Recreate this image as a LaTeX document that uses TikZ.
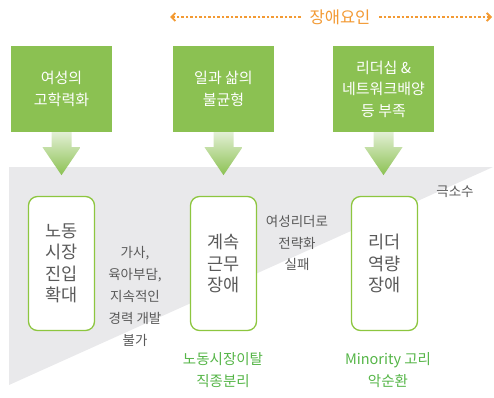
\documentclass[tikz,border=0pt]{standalone}
\usepackage{fontspec}
\setmainfont{Noto Sans CJK KR}
\usetikzlibrary{arrows.meta}
\definecolor{boxgreen}{HTML}{8BC152}
\definecolor{linegreen}{HTML}{8DC63F}
\definecolor{txtgreen}{HTML}{55B547}
\definecolor{lightgreen}{HTML}{E2EFD4}
\definecolor{graybg}{HTML}{E9E9EB}
\definecolor{graytxt}{HTML}{5A5A5A}
\definecolor{orangec}{HTML}{F39A33}
\tikzset{
  greenbox/.style={fill=boxgreen, minimum width=101pt, minimum height=86pt, inner sep=0pt, align=center, text=white, font=\fontsize{15}{21.5}\selectfont},
  roundbox/.style={draw=linegreen, line width=1.3pt, fill=white, rounded corners=9pt, minimum width=66pt, minimum height=134pt, inner sep=0pt, align=center, text=graytxt, font=\fontsize{17.5}{21.5}\selectfont},
  sidetxt/.style={align=center, text=graytxt, font=\fontsize{13.5}{21.8}\selectfont, inner sep=0pt},
  greentxt/.style={align=center, text=txtgreen, font=\fontsize{14.5}{21.5}\selectfont, inner sep=0pt},
  downarrow/.style={top color=lightgreen, bottom color=boxgreen, draw=none},
  orangeline/.style={orangec, line width=1.2pt, dash pattern=on 2.5pt off 2pt, arrows={-Straight Barb[length=4pt,width=8pt,line width=1.8pt]}}
}
\begin{document}
\begin{tikzpicture}[x=1pt,y=-1pt]
\useasboundingbox (0,0) rectangle (494,397);
% gray wedge
\fill[graybg] (9,167) -- (493,167) -- (9,385) -- cycle;
% top orange line
\coordinate (la) at (170,17);
\coordinate (lb) at (492,17);
\node[text=orangec, font=\fontsize{16.5}{18}\selectfont, fill=white, inner sep=0pt, minimum width=78pt] (hdr) at (340,17) {장애요인};
\draw[orangeline] (hdr.west) -- (la);
\draw[orangeline] (hdr.east) -- (lb);
% green boxes
\node[greenbox] (g1) at (61.5,89) {여성의\\고학력화};
\node[greenbox] (g2) at (223.5,89) {일과 삶의\\불균형};
\node[greenbox] (g3) at (383.5,89) {리더십 \&\\네트워크배양\\등 부족};
% arrows
\foreach \g in {g1,g2,g3}{
  \shade[downarrow] (\g.south) ++(-10,0) -- ++(0,15) -- ++(-9,0) -- ++(19,28) -- ++(19,-28) -- ++(-9,0) -- ++(0,-15) -- cycle;
}
% rounded boxes
\node[roundbox] (r1) at (61.5,263.5) {노동\\시장\\진입\\확대};
\node[roundbox] (r2) at (223.5,263.5) {계속\\근무\\장애};
\node[roundbox] (r3) at (384.5,263.5) {리더\\역량\\장애};
% side texts
\node[sidetxt] (s1) at (135,296.5) {가사,\\육아부담,\\지속적인\\경력 개발\\불가};
\node[sidetxt] (s2) at (297,243) {여성리더로\\전략화\\실패};
\node[sidetxt] (s3) at (455,192) {극소수};
% green texts
\node[greentxt] (t1) at (223,370) {노동시장이탈\\직종분리};
\node[greentxt] (t2) at (388,370) {Minority 고리\\악순환};
\end{tikzpicture}
\end{document}
